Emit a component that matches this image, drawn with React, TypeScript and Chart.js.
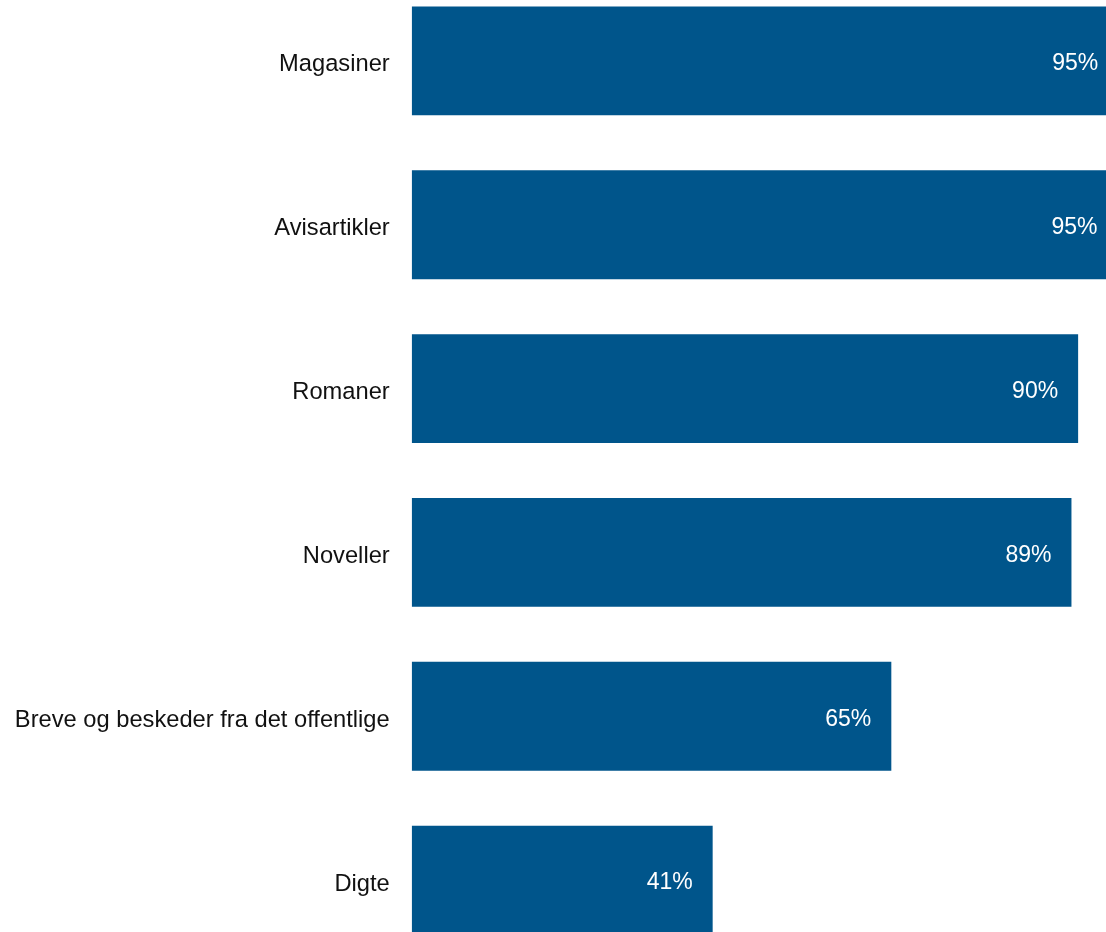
import React, { useEffect, useRef } from "react";
import { Chart, registerables } from "chart.js";

Chart.register(...registerables);

const categories: string[] = [
  "Magasiner",
  "Avisartikler",
  "Romaner",
  "Noveller",
  "Breve og beskeder fra det offentlige",
  "Digte",
];
const values: number[] = [95.3, 95.2, 89.9, 89.0, 64.7, 40.6];

const BAR_COLOR = "rgb(0, 85, 139)";
const FONT_FAMILY = "'Liberation Sans', Arial, Helvetica, sans-serif";

const valueLabelPlugin = {
  id: "valueLabels",
  afterDatasetsDraw(chart: any) {
    const ctx = chart.ctx;
    const meta = chart.getDatasetMeta(0);
    ctx.save();
    ctx.font = `23px ${FONT_FAMILY}`;
    ctx.fillStyle = "#ffffff";
    ctx.textAlign = "right";
    ctx.textBaseline = "middle";
    meta.data.forEach((el: any, i: number) => {
      const v = chart.data.datasets[0].data[i] as number;
      ctx.fillText(`${Math.round(v)}%`, el.x - 20, el.y + 3);
    });
    ctx.restore();
  },
};

export default function App() {
  const canvasRef = useRef<HTMLCanvasElement | null>(null);

  useEffect(() => {
    if (!canvasRef.current) return;
    const chart = new Chart(canvasRef.current, {
      type: "bar",
      data: {
        labels: categories,
        datasets: [
          {
            data: values,
            backgroundColor: BAR_COLOR,
            borderWidth: 0,
            categoryPercentage: 1,
            barPercentage: 0.664,
          },
        ],
      },
      options: {
        indexAxis: "y",
        animation: false,
        responsive: false,
        maintainAspectRatio: false,
        layout: { padding: 0 },
        plugins: {
          legend: { display: false },
          tooltip: { enabled: false },
          title: { display: false },
        },
        scales: {
          x: {
            display: false,
            min: 0,
            max: 100,
          },
          y: {
            grid: { display: false, drawTicks: false },
            border: { display: false },
            ticks: {
              padding: 22,
              labelOffset: 4,
              color: "#111111",
              font: { family: FONT_FAMILY, size: 23.7 },
            },
            afterFit: (scale: any) => {
              scale.width = 411.7;
              scale.paddingTop = 0;
              scale.paddingBottom = 0;
            },
          },
        },
      },
      plugins: [valueLabelPlugin],
    });
    return () => chart.destroy();
  }, []);

  return (
    <div
      style={{
        position: "fixed",
        left: 0,
        top: 0,
        width: 1106,
        height: 932,
        overflow: "hidden",
        background: "#ffffff",
      }}
    >
      <canvas
        ref={canvasRef}
        width={1153}
        height={983}
        style={{ position: "absolute", left: 0, top: -21, width: 1153, height: 983 }}
      />
    </div>
  );
}
